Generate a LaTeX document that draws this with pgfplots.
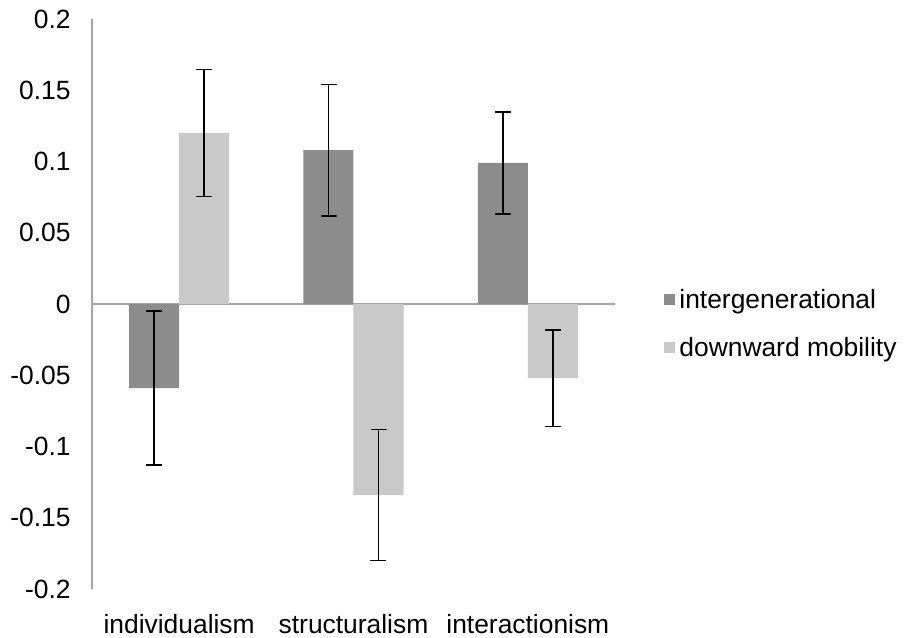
\documentclass[border=0pt]{standalone}
\usepackage{fontspec}
\setmainfont{Liberation Sans}
\usepackage{pgfplots}
\pgfplotsset{compat=1.18}
\definecolor{darkbar}{RGB}{140,140,140}
\definecolor{lightbar}{RGB}{201,201,201}
\definecolor{axisgray}{RGB}{166,166,166}
\begin{document}
\begin{tikzpicture}
\begin{axis}[
  scale only axis, width=261.5pt, height=285pt,
  xmin=-0.5, xmax=2.5, ymin=-0.2, ymax=0.2,
  ybar=0pt, bar width=25pt,
  separate axis lines,
  axis y line*=left, axis x line*=bottom,
  x axis line style={draw=none},
  y axis line style={axisgray, line width=1pt, -},
  major tick length=0pt,
  xtick={0,1,2},
  xticklabels={individualism,structuralism,interactionism},
  ytick={-0.2,-0.15,-0.1,-0.05,0,0.05,0.1,0.15,0.2},
  tick label style={font=\fontsize{13.2}{15.8}\selectfont},
  yticklabel style={/pgf/number format/fixed, /pgf/number format/precision=2, /pgf/number format/assume math mode=true, inner sep=0pt, anchor=east},
  xticklabel style={inner sep=0pt, anchor=north},
  yticklabel shift=10.5pt, xticklabel shift=12.5pt,
  extra y ticks={0}, extra y tick labels={},
  extra y tick style={grid=major, major grid style={axisgray, line width=1pt}},
  legend image code/.code={\fill[#1, draw=none] (0pt,2pt) rectangle (5.5pt,7.5pt);},
  legend style={draw=none, fill=none, at={(1.0937,0.527)}, anchor=north west, inner sep=0pt, outer sep=0pt,
    row sep=11pt, column sep=2.2pt,
    nodes={inner sep=0pt, text height=10pt, text depth=3pt, anchor=base west},
    font=\fontsize{13.2}{15.8}\selectfont},
  legend cell align=left,
  error bars/y dir=both, error bars/y explicit,
  error bars/error bar style={black, line width=0.9pt},
  error bars/error mark options={rotate=90, mark size=4pt, black, line width=0.9pt},
]
\addplot[fill=darkbar, draw=none] coordinates {
  (0,-0.059) +- (0,0.054)
  (1,0.108) +- (0,0.046)
  (2,0.099) +- (0,0.036)
};
\addplot[fill=lightbar, draw=none] coordinates {
  (0,0.120) +- (0,0.0445)
  (1,-0.134) +- (0,0.046)
  (2,-0.052) +- (0,0.034)
};
\legend{intergenerational, downward mobility}
\end{axis}
\pgfresetboundingbox
\path[use as bounding box] (-46pt,-24pt) rectangle (406pt,294.5pt);
\end{tikzpicture}
\end{document}
